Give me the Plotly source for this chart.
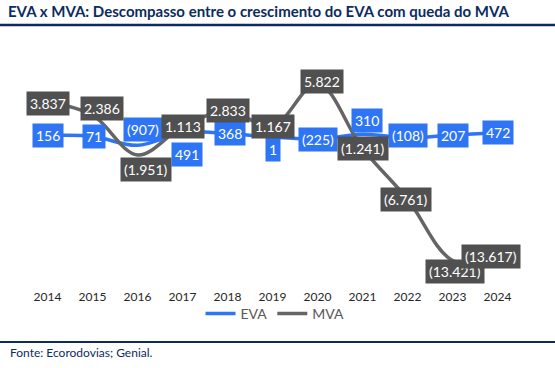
import plotly.graph_objects as go

years = [2014, 2015, 2016, 2017, 2018, 2019, 2020, 2021, 2022, 2023, 2024]
year_labels = ["2014", "2015", "2016", "2017", "2018", "2019", "2020", "2021", "2022", "2023", "2024"]
eva = [156, 71, -907, 491, 368, 1, -225, 310, -108, 207, 472]
mva = [3837, 2386, -1951, 1113, 2833, 1167, 5822, -1241, -6761, -13421, -13617]

# label pixel offsets (x, y) relative to each point
eva_off = [(0, 0), (1, 0), (5, 16), (4, -22), (2, 0), (0, -13), (0, 0), (4, 14), (0, 2), (0, 0), (0, 0)]
mva_off = [(0, -2), (9, 7), (8, -15), (0, 0), (0, 0), (0, 0), (4, 2), (0, 0), (-2, 0), (2, -11), (-7, 6)]

BLUE = "#2E75F5"
GRAY_BOX = "#505050"
GRAY_LINE = "#656565"
NAVY = "#0D2B5E"
FONT = "Lato"


def fmt(v):
    s = f"{abs(v):,}".replace(",", ".")
    return f"({s})" if v < 0 else s


fig = go.Figure()
fig.add_trace(go.Scatter(x=years, y=eva, name="EVA", mode="lines",
                         line=dict(color=BLUE, width=3.5, shape="spline", smoothing=1)))
fig.add_trace(go.Scatter(x=years, y=mva, name="MVA", mode="lines",
                         line=dict(color=GRAY_LINE, width=3.5, shape="spline", smoothing=1)))

ann = []
for yr, v, (dx, dy) in zip(years, eva, eva_off):
    ann.append(dict(x=yr, y=v, xref="x", yref="y", text=fmt(v), showarrow=False,
                    xshift=dx, yshift=dy, bgcolor=BLUE, borderpad=3,
                    font=dict(family=FONT, size=14, color="white")))
for yr, v, (dx, dy) in zip(years, mva, mva_off):
    ann.append(dict(x=yr, y=v, xref="x", yref="y", text=fmt(v), showarrow=False,
                    xshift=dx, yshift=dy, bgcolor=GRAY_BOX, borderpad=3,
                    font=dict(family=FONT, size=14, color="white")))

L, R, T, B = 25, 35, 40, 83
W, H = 555, 368
pw = W - L - R
ph = H - T - B


def px(x):
    return (x - L) / pw


def py(y):
    return (H - B - y) / ph


ann.append(dict(x=px(8), y=py(352), xref="paper", yref="paper", xanchor="left", yanchor="middle",
                text="Fonte: Ecorodovias; Genial.", showarrow=False,
                font=dict(family=FONT, size=12, color=NAVY)))

shapes = [
    dict(type="line", xref="paper", yref="paper", x0=px(0), x1=px(555), y0=py(25), y1=py(25),
         line=dict(color=NAVY, width=2.5), layer="above"),
    dict(type="line", xref="paper", yref="paper", x0=px(0), x1=px(555), y0=py(342), y1=py(342),
         line=dict(color=NAVY, width=2), layer="above"),
]

fig.update_layout(
    width=W, height=H,
    margin=dict(l=L, r=R, t=T, b=B),
    paper_bgcolor="white", plot_bgcolor="white",
    title=dict(text="<b>EVA x MVA: Descompasso entre o crescimento do EVA com queda do MVA</b>",
               x=8 / W, xanchor="left", xref="container", y=1 - 12 / H, yanchor="middle", yref="container",
               font=dict(family=FONT, size=15, color=NAVY)),
    xaxis=dict(range=[2013.5, 2024.5], tickmode="array", tickvals=years, ticktext=year_labels,
               showgrid=False, zeroline=False, showline=False, ticks="", ticklabelstandoff=3,
               tickfont=dict(family=FONT, size=12, color="#262626")),
    yaxis=dict(range=[-16087, 10543], visible=False, showgrid=False, zeroline=False),
    showlegend=True,
    legend=dict(orientation="h", x=px(275), xanchor="center", y=py(314), yanchor="middle",
                font=dict(family=FONT, size=14, color="#595959"), itemwidth=30,
                bgcolor="rgba(0,0,0,0)"),
    annotations=ann,
    shapes=shapes,
)

fig.write_html("out.html", config={"displayModeBar": False},
               post_script="document.documentElement.style.margin='0';document.body.style.margin='0';")
